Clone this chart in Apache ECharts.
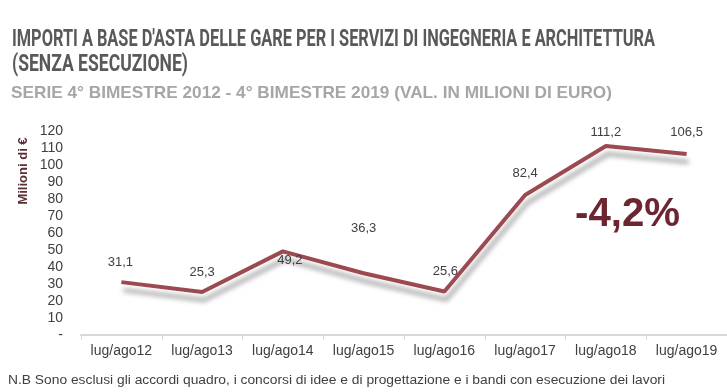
<!DOCTYPE html>
<html>
<head>
<meta charset="utf-8">
<script src="https://cdn.jsdelivr.net/npm/echarts@6/dist/echarts.min.js"></script>
<style>html,body{margin:0;padding:0;background:#fff;}#c{width:727px;height:392px;}</style>
</head>
<body>
<div id="c"></div>
<script>
const categories = ['lug/ago12','lug/ago13','lug/ago14','lug/ago15','lug/ago16','lug/ago17','lug/ago18','lug/ago19'];
const values = [31.1, 25.3, 49.2, 36.3, 25.6, 82.4, 111.2, 106.5];
const yTicks = [0,10,20,30,40,50,60,70,80,90,100,110,120];
const titleLine1 = "IMPORTI A BASE D'ASTA DELLE GARE PER I SERVIZI DI INGEGNERIA E ARCHITETTURA";
const titleLine2 = "(SENZA ESECUZIONE)";
const subtitle = "SERIE 4° BIMESTRE 2012 - 4° BIMESTRE 2019 (VAL. IN MILIONI DI EURO)";
const yName = "Milioni di €";
const changeText = "-4,2%";
const footnote = "N.B Sono esclusi gli accordi quadro, i concorsi di idee e di progettazione e i bandi con esecuzione dei lavori";
// manual label displacement (as in the source chart)
const labelOffsets = [[-1,-13],[0,-13],[7,16],[0,-38],[1,-14],[0,-15],[0,-7],[0,-15]];

const mctx = document.createElement('canvas').getContext('2d');
function fitScale(text, font, target){ mctx.font = font; return target / mctx.measureText(text).width; }

function txt(text, x, y, size, weight, family, color, targetW){
  const font = weight + ' ' + size + 'px ' + family;
  const s = targetW ? fitScale(text, font, targetW) : 1;
  return {type:'text', x:x, y:y, scaleX:s, style:{text:text, fontSize:size, fontWeight:weight, fontFamily:family, fill:color, align:'left', verticalAlign:'middle'}};
}

const chart = echarts.init(document.getElementById('c'), null, {renderer:'canvas'});
const fam = 'Liberation Sans, Arial, sans-serif';
chart.setOption({
  animation:false,
  grid:{left:81, right:0, top:131, bottom:57},
  xAxis:{type:'category', data:categories, boundaryGap:true,
    axisLine:{lineStyle:{color:'#d9d9d9', width:2}},
    axisTick:{show:true, length:5, lineStyle:{color:'#d9d9d9', width:1}},
    axisLabel:{color:'#404040', fontSize:14, fontFamily:fam, margin:9}},
  yAxis:{type:'value', min:0, max:120, interval:10,
    axisLine:{show:false}, axisTick:{show:false}, splitLine:{show:false},
    axisLabel:{color:'#404040', fontSize:14, fontFamily:fam, margin:18,
      formatter:function(v){return v===0?'-':String(v);}}},
  series:[{type:'line', data:values.map(function(v,i){return {value:v, label:{offset:labelOffsets[i]}};}),
    symbol:'circle', symbolSize:0, showSymbol:true,
    lineStyle:{color:'#9b4a51', width:4, shadowColor:'rgba(0,0,0,0.35)', shadowBlur:5, shadowOffsetX:2, shadowOffsetY:8},
    itemStyle:{color:'#9b4a51'},
    label:{show:true, position:'top', distance:0, color:'#404040', fontSize:13, fontFamily:fam,
      formatter:function(p){return String(p.value).replace('.',',');}}}],
  graphic:[
    txt(titleLine1, 12, 40, 24, 'bold', 'Roboto', '#595959', 643),
    txt(titleLine2, 12, 65, 24, 'bold', 'Roboto', '#595959', 176),
    txt(subtitle, 11, 93, 17, 'bold', 'Liberation Sans', '#a6a6a6', 601),
    txt(changeText, 575, 215, 40, 'bold', 'Liberation Sans', '#6b2631', 105),
    txt(footnote, 8, 381, 12, 'normal', 'Liberation Sans', '#404040', 657),
    {type:'text', x:23, y:171, rotation:Math.PI/2,
      style:{text:yName, fontSize:13, fontWeight:'bold', fontFamily:'Liberation Sans', fill:'#5a2f33', align:'center', verticalAlign:'middle'}}
  ]
});
</script>
</body>
</html>
